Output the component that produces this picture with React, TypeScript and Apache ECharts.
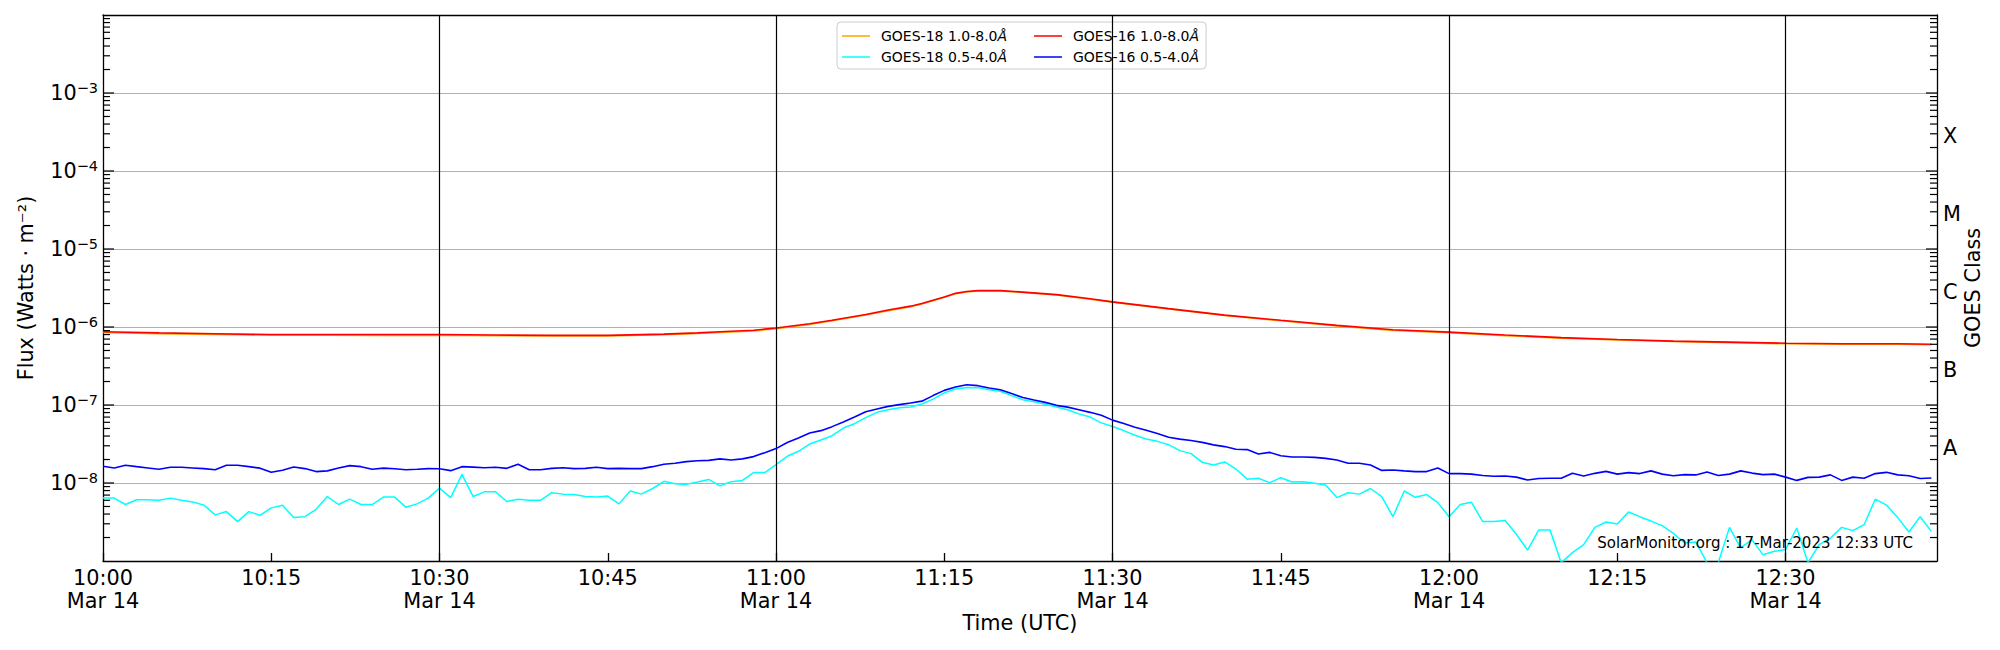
import React, { useEffect, useRef } from "react";
import * as echarts from "echarts";

const FONT = "DejaVu Sans";
const START_UTC = Date.UTC(2023, 2, 14, 10, 0, 0);
const END_UTC = Date.UTC(2023, 2, 14, 12, 43, 30);
const DATE_LABEL = "Mar 14";
const Y_MIN = 1e-9;
const Y_MAX = 1e-2;

// Long channel (1.0-8.0 Å) sample times (UTC, Mar 14)
const longTimes = [
  "10:00", "10:05", "10:10", "10:15", "10:20", "10:25", "10:30", "10:35", "10:40", "10:45",
  "10:50", "10:53", "10:55", "10:58", "11:00", "11:03", "11:05", "11:08", "11:10", "11:12",
  "11:13", "11:15", "11:16", "11:17", "11:18", "11:20", "11:22", "11:25", "11:28", "11:30",
  "11:35", "11:40", "11:45", "11:50", "11:55", "12:00", "12:05", "12:10", "12:15", "12:20",
  "12:25", "12:30", "12:35", "12:40", "12:43",
];

// GOES-16 1.0-8.0 Å (W/m^2)
const goes16Long = [
  8.7e-7, 8.4e-7, 8.2e-7, 8.0e-7, 8.0e-7, 8.0e-7, 8.0e-7, 7.9e-7, 7.8e-7, 7.8e-7,
  8.1e-7, 8.4e-7, 8.7e-7, 9.1e-7, 9.7e-7, 1.1e-6, 1.22e-6, 1.45e-6, 1.65e-6, 1.85e-6,
  2.0e-6, 2.43e-6, 2.7e-6, 2.85e-6, 2.93e-6, 2.93e-6, 2.8e-6, 2.6e-6, 2.3e-6, 2.1e-6,
  1.72e-6, 1.42e-6, 1.22e-6, 1.05e-6, 9.2e-7, 8.6e-7, 7.9e-7, 7.3e-7, 6.9e-7, 6.6e-7,
  6.4e-7, 6.2e-7, 6.1e-7, 6.1e-7, 6.0e-7,
];

// GOES-18 1.0-8.0 Å (W/m^2), mostly hidden under GOES-16
const goes18Long = [
  8.5e-7, 8.2e-7, 8.0e-7, 7.85e-7, 7.85e-7, 7.8e-7, 7.85e-7, 7.75e-7, 7.65e-7, 7.65e-7,
  7.95e-7, 8.25e-7, 8.5e-7, 8.9e-7, 9.5e-7, 1.08e-6, 1.2e-6, 1.42e-6, 1.62e-6, 1.82e-6,
  1.97e-6, 2.4e-6, 2.66e-6, 2.82e-6, 2.9e-6, 2.9e-6, 2.77e-6, 2.57e-6, 2.27e-6, 2.07e-6,
  1.7e-6, 1.4e-6, 1.2e-6, 1.03e-6, 9.05e-7, 8.45e-7, 7.75e-7, 7.2e-7, 6.8e-7, 6.5e-7,
  6.3e-7, 6.1e-7, 6.0e-7, 6.0e-7, 5.9e-7,
];

// Short channel (0.5-4.0 Å), one value per minute from 10:00 to 12:43
const goes18Short = [
  6.4e-9, 6.4e-9, 5.3e-9, 6.1e-9, 6.1e-9, 6.0e-9, 6.4e-9, 6.0e-9, 5.7e-9, 5.2e-9,
  3.9e-9, 4.3e-9, 3.2e-9, 4.3e-9, 3.85e-9, 4.8e-9, 5.2e-9, 3.6e-9, 3.7e-9, 4.6e-9,
  6.7e-9, 5.3e-9, 6.2e-9, 5.3e-9, 5.3e-9, 6.6e-9, 6.6e-9, 4.9e-9, 5.4e-9, 6.4e-9,
  8.6e-9, 6.5e-9, 1.29e-8, 6.7e-9, 7.7e-9, 7.7e-9, 5.8e-9, 6.2e-9, 6.0e-9, 6.0e-9,
  7.5e-9, 7.2e-9, 7.1e-9, 6.7e-9, 6.6e-9, 6.8e-9, 5.4e-9, 7.9e-9, 7.2e-9, 8.5e-9,
  1.05e-8, 9.8e-9, 9.6e-9, 1.03e-8, 1.11e-8, 9.2e-9, 1.04e-8, 1.08e-8, 1.36e-8, 1.36e-8,
  1.72e-8, 2.2e-8, 2.55e-8, 3.16e-8, 3.56e-8, 4.04e-8, 5.07e-8, 5.76e-8, 6.9e-8, 8.05e-8,
  8.7e-8, 9.2e-8, 9.4e-8, 1.03e-7, 1.19e-7, 1.43e-7, 1.6e-7, 1.68e-7, 1.67e-7, 1.57e-7,
  1.5e-7, 1.32e-7, 1.17e-7, 1.1e-7, 1.02e-7, 9.4e-8, 8.7e-8, 7.7e-8, 7.0e-8, 5.9e-8,
  5.3e-8, 4.7e-8, 4.1e-8, 3.66e-8, 3.42e-8, 3.1e-8, 2.6e-8, 2.38e-8, 1.84e-8, 1.7e-8,
  1.86e-8, 1.51e-8, 1.12e-8, 1.15e-8, 1.01e-8, 1.17e-8, 1.03e-8, 1.04e-8, 9.9e-9, 9.4e-9,
  6.5e-9, 7.5e-9, 7.2e-9, 8.5e-9, 6.7e-9, 3.7e-9, 7.9e-9, 6.55e-9, 7.1e-9, 5.6e-9,
  3.7e-9, 5.3e-9, 5.65e-9, 3.2e-9, 3.2e-9, 3.3e-9, 2.2e-9, 1.38e-9, 2.5e-9, 2.5e-9,
  9.5e-10, 1.28e-9, 1.62e-9, 2.7e-9, 3.16e-9, 2.98e-9, 4.25e-9, 3.7e-9, 3.25e-9, 2.84e-9,
  2.26e-9, 1.7e-9, 1.75e-9, 9.5e-10, 9.5e-10, 2.7e-9, 1.47e-9, 1.88e-9, 1.2e-9, 1.33e-9,
  1.4e-9, 2.65e-9, 9.5e-10, 1.62e-9, 1.97e-9, 2.7e-9, 2.45e-9, 2.92e-9, 6.2e-9, 5.2e-9,
  3.6e-9, 2.35e-9, 3.7e-9, 2.4e-9,
];

const goes16Short = [
  1.64e-8, 1.56e-8, 1.69e-8, 1.62e-8, 1.56e-8, 1.5e-8, 1.59e-8, 1.59e-8, 1.56e-8, 1.53e-8,
  1.48e-8, 1.69e-8, 1.69e-8, 1.62e-8, 1.55e-8, 1.37e-8, 1.46e-8, 1.6e-8, 1.53e-8, 1.4e-8,
  1.43e-8, 1.56e-8, 1.67e-8, 1.62e-8, 1.5e-8, 1.55e-8, 1.52e-8, 1.48e-8, 1.5e-8, 1.53e-8,
  1.52e-8, 1.44e-8, 1.62e-8, 1.6e-8, 1.57e-8, 1.59e-8, 1.54e-8, 1.74e-8, 1.48e-8, 1.48e-8,
  1.54e-8, 1.57e-8, 1.53e-8, 1.54e-8, 1.59e-8, 1.53e-8, 1.54e-8, 1.53e-8, 1.53e-8, 1.62e-8,
  1.74e-8, 1.79e-8, 1.88e-8, 1.93e-8, 1.95e-8, 2.04e-8, 1.97e-8, 2.04e-8, 2.18e-8, 2.45e-8,
  2.76e-8, 3.3e-8, 3.78e-8, 4.38e-8, 4.69e-8, 5.28e-8, 6.05e-8, 7.0e-8, 8.2e-8, 8.9e-8,
  9.6e-8, 1.01e-7, 1.06e-7, 1.12e-7, 1.32e-7, 1.54e-7, 1.7e-7, 1.82e-7, 1.77e-7, 1.65e-7,
  1.57e-7, 1.4e-7, 1.25e-7, 1.16e-7, 1.08e-7, 9.9e-8, 9.4e-8, 8.7e-8, 8.05e-8, 7.4e-8,
  6.4e-8, 5.8e-8, 5.2e-8, 4.75e-8, 4.3e-8, 3.85e-8, 3.65e-8, 3.5e-8, 3.32e-8, 3.08e-8,
  2.93e-8, 2.71e-8, 2.68e-8, 2.35e-8, 2.47e-8, 2.24e-8, 2.15e-8, 2.15e-8, 2.13e-8, 2.07e-8,
  1.97e-8, 1.79e-8, 1.79e-8, 1.7e-8, 1.45e-8, 1.47e-8, 1.43e-8, 1.4e-8, 1.4e-8, 1.56e-8,
  1.32e-8, 1.32e-8, 1.3e-8, 1.25e-8, 1.22e-8, 1.23e-8, 1.19e-8, 1.09e-8, 1.14e-8, 1.15e-8,
  1.15e-8, 1.33e-8, 1.23e-8, 1.33e-8, 1.41e-8, 1.3e-8, 1.36e-8, 1.32e-8, 1.43e-8, 1.3e-8,
  1.24e-8, 1.28e-8, 1.27e-8, 1.38e-8, 1.25e-8, 1.3e-8, 1.43e-8, 1.34e-8, 1.28e-8, 1.3e-8,
  1.19e-8, 1.08e-8, 1.18e-8, 1.19e-8, 1.27e-8, 1.08e-8, 1.19e-8, 1.15e-8, 1.32e-8, 1.37e-8,
  1.27e-8, 1.24e-8, 1.14e-8, 1.16e-8,
];

const seriesNames = [
  "GOES-18 1.0-8.0Å",
  "GOES-18 0.5-4.0Å",
  "GOES-16 1.0-8.0Å",
  "GOES-16 0.5-4.0Å",
];
const seriesColors = ["#ffa500", "#00ffff", "#ff0000", "#0000ff"];

const markerTimes = ["10:30", "11:00", "11:30", "12:00", "12:30"];
const goesClassLetters = ["A", "B", "C", "M", "X"];
const goesClassExponents = [-7.5, -6.5, -5.5, -4.5, -3.5];
const footerText = "SolarMonitor.org : 17-Mar-2023 12:33 UTC";

const toMs = (hhmm: string) => {
  const [h, m] = hhmm.split(":").map(Number);
  return Date.UTC(2023, 2, 14, h, m, 0);
};
const pad2 = (n: number) => (n < 10 ? "0" + n : "" + n);

function buildOption() {
  const longPairs = (vals: number[]) => vals.map((v, i) => [toMs(longTimes[i]), v]);
  const minutePairs = (vals: number[]) => vals.map((v, i) => [START_UTC + i * 60000, v]);

  // log-axis tick positions: majors at decades, minors at 2..9 x decade
  const majorTicks: number[] = [];
  const minorTicks: number[] = [];
  for (let e = -9; e <= -3; e++) {
    for (let m = 1; m <= 9; m++) {
      const v = m * Math.pow(10, e);
      if (m === 1) {
        if (e > -9) majorTicks.push(v);
      } else minorTicks.push(v);
    }
  }

  const tickSeries = (vals: number[], atStart: boolean, len: number) => ({
    type: "scatter",
    xAxisIndex: 0,
    yAxisIndex: 0,
    silent: true,
    clip: false,
    z: 6,
    symbol: "rect",
    symbolSize: [len, 1.2],
    symbolOffset: [atStart ? len / 2 : -len / 2, 0],
    itemStyle: { color: "#000", opacity: 1 },
    emphasis: { disabled: true },
    data: vals.map((v) => [atStart ? START_UTC : END_UTC, v]),
  });

  const lineBase = {
    type: "line",
    showSymbol: false,
    symbol: "none",
    clip: true,
    silent: true,
    emphasis: { disabled: true },
    xAxisIndex: 0,
    yAxisIndex: 0,
  };

  const legendText = {
    fontFamily: FONT,
    fontSize: 14,
    color: "#000",
    padding: [0, 0, 0, 6],
    rich: { i: { fontFamily: FONT, fontSize: 14, fontStyle: "italic", color: "#000" } },
  };
  const legendIcon = "path://M0 0H28V1.5H0Z";
  const nameStyle = { fontFamily: FONT, fontSize: 20.8, color: "#000" };

  return {
    animation: false,
    textStyle: { fontFamily: FONT },
    grid: { left: 103, right: 63, top: 15, bottom: 89 },
    legend: [
      {
        data: [seriesNames[0], seriesNames[1]],
        orient: "vertical",
        left: 837,
        top: 22,
        padding: [7, 199, 5, 5],
        itemGap: 7,
        itemWidth: 28,
        itemHeight: 16,
        icon: legendIcon,
        borderColor: "#cccccc",
        borderWidth: 1,
        borderRadius: 4,
        backgroundColor: "rgba(255,255,255,0.85)",
        selectedMode: false,
        textStyle: legendText,
        formatter: (n: string) => n.replace("Å", "{i|Å}"),
      },
      {
        data: [seriesNames[2], seriesNames[3]],
        orient: "vertical",
        left: 1034,
        top: 22,
        padding: [7, 0, 5, 0],
        itemGap: 7,
        itemWidth: 28,
        itemHeight: 16,
        icon: legendIcon,
        selectedMode: false,
        textStyle: legendText,
        formatter: (n: string) => n.replace("Å", "{i|Å}"),
      },
    ],
    xAxis: [
      {
        type: "value",
        position: "bottom",
        min: START_UTC,
        max: END_UTC,
        interval: 15 * 60000,
        axisLine: { show: true, lineStyle: { color: "#000", width: 1.3 } },
        axisTick: { show: true, inside: true, length: 8, lineStyle: { color: "#000", width: 1.3 } },
        splitLine: { show: false },
        axisLabel: {
          showMaxLabel: false,
          margin: 5,
          fontFamily: FONT,
          fontSize: 20.8,
          lineHeight: 23,
          color: "#000",
          formatter: (v: number) => {
            if (Math.abs((v - START_UTC) % (15 * 60000)) > 1) return "";
            const d = new Date(v);
            const t = pad2(d.getUTCHours()) + ":" + pad2(d.getUTCMinutes());
            return d.getUTCMinutes() % 30 === 0 ? t + "\n" + DATE_LABEL : t;
          },
        },
        name: "Time (UTC)",
        nameLocation: "middle",
        nameGap: 51,
        nameMoveOverlap: false,
        nameTextStyle: nameStyle,
      },
      {
        type: "value",
        position: "top",
        min: START_UTC,
        max: END_UTC,
        axisLine: { show: true, lineStyle: { color: "#000", width: 1.3 } },
        axisTick: { show: false },
        axisLabel: { show: false },
        splitLine: { show: false },
      },
    ],
    yAxis: [
      {
        type: "log",
        logBase: 10,
        position: "left",
        min: Y_MIN,
        max: Y_MAX,
        splitNumber: 7,
        axisLine: { show: true, lineStyle: { color: "#000", width: 1.3 } },
        axisTick: { show: false },
        splitLine: { show: true, lineStyle: { color: "#b0b0b0", width: 1.2 } },
        axisLabel: {
          margin: 5,
          color: "#000",
          fontFamily: FONT,
          formatter: (v: number) => {
            const e = Math.round(Math.log10(v));
            if (e <= -9 || e >= -2) return "";
            return "{b|10}{s|−" + -e + "}";
          },
          rich: {
            b: { fontFamily: FONT, fontSize: 20.8, lineHeight: 26, color: "#000" },
            s: { fontFamily: FONT, fontSize: 14.5, lineHeight: 15, verticalAlign: "top", color: "#000" },
          },
        },
        name: "Flux (Watts · m⁻²)",
        nameLocation: "middle",
        nameRotate: 90,
        nameGap: 67,
        nameMoveOverlap: false,
        nameTextStyle: nameStyle,
      },
      {
        type: "value",
        position: "right",
        min: -9,
        max: -2,
        interval: 0.5,
        axisLine: { show: true, lineStyle: { color: "#000", width: 1.3 } },
        axisTick: { show: false },
        splitLine: { show: false },
        axisLabel: {
          margin: 6,
          fontFamily: FONT,
          fontSize: 20.8,
          color: "#000",
          verticalAlign: "top",
          lineHeight: 7,
          formatter: (v: number) => {
            const idx = goesClassExponents.findIndex((x) => Math.abs(x - v) < 1e-6);
            return idx >= 0 ? goesClassLetters[idx] : "";
          },
        },
        name: "GOES Class",
        nameLocation: "middle",
        nameRotate: 90,
        nameGap: 25,
        nameMoveOverlap: false,
        nameTextStyle: nameStyle,
      },
    ],
    series: [
      {
        ...lineBase,
        name: seriesNames[0],
        color: seriesColors[0],
        lineStyle: { color: seriesColors[0], width: 1.5 },
        data: longPairs(goes18Long),
        z: 2,
      },
      {
        ...lineBase,
        name: seriesNames[1],
        color: seriesColors[1],
        lineStyle: { color: seriesColors[1], width: 1.5 },
        data: minutePairs(goes18Short),
        z: 3,
      },
      {
        ...lineBase,
        name: seriesNames[2],
        color: seriesColors[2],
        lineStyle: { color: seriesColors[2], width: 1.6 },
        data: longPairs(goes16Long),
        z: 4,
      },
      {
        ...lineBase,
        name: seriesNames[3],
        color: seriesColors[3],
        lineStyle: { color: seriesColors[3], width: 1.6 },
        data: minutePairs(goes16Short),
        z: 5,
        markLine: {
          silent: true,
          symbol: ["none", "none"],
          label: { show: false },
          emphasis: { disabled: true },
          lineStyle: { color: "#000", width: 1.2, type: "solid" },
          data: markerTimes.map((t) => ({ xAxis: toMs(t) })),
        },
      },
      tickSeries(majorTicks, true, 11),
      tickSeries(minorTicks, true, 7),
      tickSeries(majorTicks, false, 11),
      tickSeries(minorTicks, false, 7),
    ],
    graphic: [
      {
        type: "text",
        x: 1913,
        y: 543,
        silent: true,
        style: {
          text: footerText,
          fontFamily: FONT,
          fontSize: 15,
          fill: "#000",
          align: "right",
          verticalAlign: "middle",
        },
        z: 10,
      },
    ],
  };
}

export default function App() {
  const ref = useRef<HTMLDivElement>(null);
  useEffect(() => {
    if (!ref.current) return;
    const chart = echarts.init(ref.current, undefined, { renderer: "svg" });
    chart.setOption(buildOption() as any);
    return () => chart.dispose();
  }, []);
  return (
    <div
      ref={ref}
      style={{ position: "fixed", left: 0, top: 0, width: 2000, height: 650, background: "#fff" }}
    />
  );
}
